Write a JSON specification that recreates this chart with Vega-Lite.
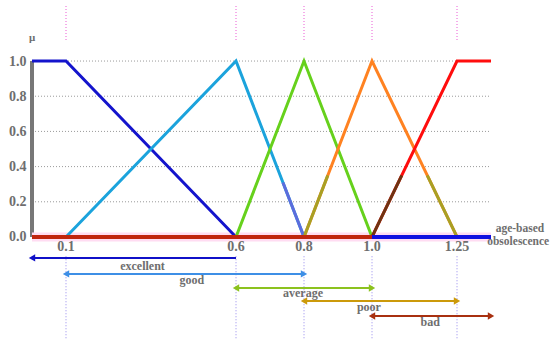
{
  "$schema": "https://vega.github.io/schema/vega-lite/v6.json",
  "width": 518,
  "height": 339,
  "autosize": "none",
  "padding": {"left": 32, "top": 0, "right": 0, "bottom": 0},
  "background": "white",
  "config": {"view": {"stroke": null}},
  "datasets": {
    "grid": [{"y": 0.2, "x0": 0, "x1": 1.35}, {"y": 0.4, "x0": 0, "x1": 1.35}, {"y": 0.6, "x0": 0, "x1": 1.35}, {"y": 0.8, "x0": 0, "x1": 1.35}, {"y": 1.0, "x0": 0, "x1": 1.35}],
    "vtop": [{"x": 0.1, "y1": 1.12, "y2": 1.32}, {"x": 0.6, "y1": 1.12, "y2": 1.32}, {"x": 0.8, "y1": 1.12, "y2": 1.32}, {"x": 1.0, "y1": 1.12, "y2": 1.32}, {"x": 1.25, "y1": 1.12, "y2": 1.32}],
    "vbot": [{"x": 0.1, "y1": -0.11, "y2": -0.58}, {"x": 0.6, "y1": -0.11, "y2": -0.58}, {"x": 0.8, "y1": -0.11, "y2": -0.58}, {"x": 1.0, "y1": -0.11, "y2": -0.58}, {"x": 1.25, "y1": -0.11, "y2": -0.58}],
    "mf": [
      {"fn": "excellent", "x": 0, "y": 1}, {"fn": "excellent", "x": 0.1, "y": 1}, {"fn": "excellent", "x": 0.6, "y": 0},
      {"fn": "good", "x": 0.1, "y": 0}, {"fn": "good", "x": 0.6, "y": 1}, {"fn": "good", "x": 0.8, "y": 0},
      {"fn": "average", "x": 0.6, "y": 0}, {"fn": "average", "x": 0.8, "y": 1}, {"fn": "average", "x": 1.0, "y": 0},
      {"fn": "poor", "x": 0.8, "y": 0}, {"fn": "poor", "x": 1.0, "y": 1}, {"fn": "poor", "x": 1.25, "y": 0},
      {"fn": "bad", "x": 1.0, "y": 0}, {"fn": "bad", "x": 1.25, "y": 1}, {"fn": "bad", "x": 1.35, "y": 1}
    ],
    "tint": [
      {"seg": "good_r", "tone": "violet", "x": 0.738, "y": 0.31}, {"seg": "good_r", "tone": "violet", "x": 0.8, "y": 0},
      {"seg": "poor_l", "tone": "olive", "x": 0.8, "y": 0}, {"seg": "poor_l", "tone": "olive", "x": 0.87, "y": 0.35},
      {"seg": "poor_r", "tone": "olive", "x": 1.1625, "y": 0.35}, {"seg": "poor_r", "tone": "olive", "x": 1.25, "y": 0},
      {"seg": "bad_l", "tone": "brown", "x": 1.0, "y": 0}, {"seg": "bad_l", "tone": "brown", "x": 1.0875, "y": 0.35}
    ],
    "base": [{"seg": "red", "x0": 0, "x1": 1.0, "y": 0}, {"seg": "blue", "x0": 1.0, "x1": 1.35, "y": 0}],
    "arrows": [
      {"arrow": "excellent", "x0": 0, "x1": 0.6, "y": -0.119, "lx": 0.325, "ly": -0.163},
      {"arrow": "good", "x0": 0.1, "x1": 0.8, "y": -0.21, "lx": 0.47, "ly": -0.246},
      {"arrow": "average", "x0": 0.6, "x1": 1.0, "y": -0.29, "lx": 0.797, "ly": -0.32},
      {"arrow": "poor", "x0": 0.8, "x1": 1.25, "y": -0.364, "lx": 0.991, "ly": -0.4},
      {"arrow": "bad", "x0": 1.0, "x1": 1.35, "y": -0.449, "lx": 1.171, "ly": -0.485}
    ],
    "heads": [
      {"arrow": "excellent", "x": 0.0, "y": -0.119, "dir": "left"},
      {"arrow": "good", "x": 0.1, "y": -0.21, "dir": "left"},
      {"arrow": "good", "x": 0.8, "y": -0.21, "dir": "right"},
      {"arrow": "average", "x": 0.6, "y": -0.29, "dir": "left"},
      {"arrow": "average", "x": 1.0, "y": -0.29, "dir": "right"},
      {"arrow": "poor", "x": 0.8, "y": -0.364, "dir": "left"},
      {"arrow": "poor", "x": 1.25, "y": -0.364, "dir": "right"},
      {"arrow": "bad", "x": 1.0, "y": -0.449, "dir": "left"},
      {"arrow": "bad", "x": 1.35, "y": -0.449, "dir": "right"}
    ],
    "ticks": [{"x": 0.1, "t": "0.1"}, {"x": 0.6, "t": "0.6"}, {"x": 0.8, "t": "0.8"}, {"x": 1.0, "t": "1.0"}, {"x": 1.25, "t": "1.25"}],
    "titles": [{"x": 1.435, "y": 0.045, "t": "age-based"}, {"x": 1.43, "y": -0.028, "t": "obsolescence"}]
  },
  "layer": [
    {
      "data": {"name": "grid"},
      "mark": {"type": "rule", "color": "#9a9a9a", "strokeDash": [1, 2], "strokeWidth": 1},
      "encoding": {
        "x": {"field": "x0", "type": "quantitative", "scale": {"domain": [0, 1.5235], "nice": false, "zero": false}, "axis": null},
        "x2": {"field": "x1"},
        "y": {"field": "y", "type": "quantitative", "scale": {"domain": [-0.58, 1.347], "nice": false, "zero": false},
          "axis": {"values": [0, 0.2, 0.4, 0.6, 0.8, 1.0], "format": ".1f", "domain": false, "ticks": false, "grid": false, "labelPadding": 6, "labelFont": "Liberation Serif", "labelFontWeight": "bold", "labelFontSize": 14, "labelColor": "#6e6e6e", "title": null}}
      }
    },
    {
      "data": {"name": "vtop"},
      "mark": {"type": "rule", "color": "#ee77dd", "strokeDash": [1, 2], "strokeWidth": 1.2},
      "encoding": {"x": {"field": "x", "type": "quantitative"}, "y": {"field": "y1", "type": "quantitative"}, "y2": {"field": "y2"}}
    },
    {
      "data": {"name": "vbot"},
      "mark": {"type": "rule", "color": "#a59cf0", "strokeDash": [1, 2], "strokeWidth": 1.2},
      "encoding": {"x": {"field": "x", "type": "quantitative"}, "y": {"field": "y1", "type": "quantitative"}, "y2": {"field": "y2"}}
    },
    {
      "data": {"values": [{"x": 0, "y0": 0, "y1": 1}]},
      "mark": {"type": "rule", "color": "#777777", "strokeWidth": 4},
      "encoding": {"x": {"field": "x", "type": "quantitative"}, "y": {"field": "y0", "type": "quantitative"}, "y2": {"field": "y1"}}
    },
    {
      "data": {"name": "base"},
      "mark": {"type": "rule", "strokeWidth": 9, "color": "#ffdcf2"},
      "encoding": {
        "x": {"field": "x0", "type": "quantitative"}, "x2": {"field": "x1"},
        "y": {"field": "y", "type": "quantitative"}
      }
    },
    {
      "data": {"name": "mf"},
      "mark": {"type": "line", "strokeWidth": 3},
      "encoding": {
        "x": {"field": "x", "type": "quantitative"},
        "y": {"field": "y", "type": "quantitative"},
        "color": {"field": "fn", "type": "nominal", "legend": null, "scale": {"domain": ["excellent", "good", "average", "poor", "bad"], "range": ["#1414cc", "#1ba3dc", "#66d11c", "#ff8221", "#ff0d0d"]}}
      }
    },
    {
      "data": {"name": "tint"},
      "mark": {"type": "line", "strokeWidth": 3},
      "encoding": {
        "x": {"field": "x", "type": "quantitative"},
        "y": {"field": "y", "type": "quantitative"},
        "detail": {"field": "seg"},
        "color": {"field": "tone", "type": "nominal", "legend": null, "scale": {"domain": ["violet", "olive", "brown"], "range": ["#5c6cdc", "#a8a024", "#6e3412"]}}
      }
    },
    {
      "data": {"name": "base"},
      "mark": {"type": "rule", "strokeWidth": 4},
      "encoding": {
        "x": {"field": "x0", "type": "quantitative"}, "x2": {"field": "x1"},
        "y": {"field": "y", "type": "quantitative"},
        "color": {"field": "seg", "type": "nominal", "legend": null, "scale": {"domain": ["red", "blue"], "range": ["#c0260e", "#1010e0"]}}
      }
    },
    {
      "data": {"name": "arrows"},
      "mark": {"type": "rule", "strokeWidth": 2},
      "encoding": {
        "x": {"field": "x0", "type": "quantitative"}, "x2": {"field": "x1"},
        "y": {"field": "y", "type": "quantitative"},
        "color": {"field": "arrow", "type": "nominal", "legend": null, "scale": {"domain": ["excellent", "good", "average", "poor", "bad"], "range": ["#1010c8", "#3d8fe6", "#8cc21e", "#cc9a0a", "#a83010"]}}
      }
    },
    {
      "data": {"name": "heads"},
      "mark": {"type": "point", "filled": true, "size": 55, "opacity": 1},
      "encoding": {
        "x": {"field": "x", "type": "quantitative"},
        "y": {"field": "y", "type": "quantitative"},
        "shape": {"field": "dir", "type": "nominal", "legend": null, "scale": {"domain": ["left", "right"], "range": ["triangle-left", "triangle-right"]}},
        "color": {"field": "arrow", "type": "nominal", "legend": null, "scale": {"domain": ["excellent", "good", "average", "poor", "bad"], "range": ["#1010c8", "#3d8fe6", "#8cc21e", "#cc9a0a", "#a83010"]}}
      }
    },
    {
      "data": {"name": "arrows"},
      "mark": {"type": "text", "font": "Liberation Serif", "fontWeight": "bold", "fontSize": 12, "color": "#6e6e6e", "baseline": "middle", "align": "center"},
      "encoding": {"x": {"field": "lx", "type": "quantitative"}, "y": {"field": "ly", "type": "quantitative"}, "text": {"field": "arrow"}}
    },
    {
      "data": {"name": "ticks"},
      "mark": {"type": "text", "font": "Liberation Serif", "fontWeight": "bold", "fontSize": 14, "color": "#6e6e6e", "baseline": "middle", "align": "center", "dy": 10},
      "encoding": {"x": {"field": "x", "type": "quantitative"}, "y": {"datum": 0, "type": "quantitative"}, "text": {"field": "t"}}
    },
    {
      "data": {"name": "titles"},
      "mark": {"type": "text", "font": "Liberation Serif", "fontWeight": "bold", "fontSize": 11.5, "color": "#6e6e6e", "baseline": "middle", "align": "center"},
      "encoding": {"x": {"field": "x", "type": "quantitative"}, "y": {"field": "y", "type": "quantitative"}, "text": {"field": "t"}}
    },
    {
      "data": {"values": [{"x": 0, "y": 1.13, "t": "μ"}]},
      "mark": {"type": "text", "font": "Liberation Serif", "fontWeight": "bold", "fontSize": 11, "color": "#6e6e6e", "baseline": "middle", "align": "center"},
      "encoding": {"x": {"field": "x", "type": "quantitative"}, "y": {"field": "y", "type": "quantitative"}, "text": {"field": "t"}}
    }
  ],
  "resolve": {"scale": {"color": "independent", "shape": "independent"}}
}
